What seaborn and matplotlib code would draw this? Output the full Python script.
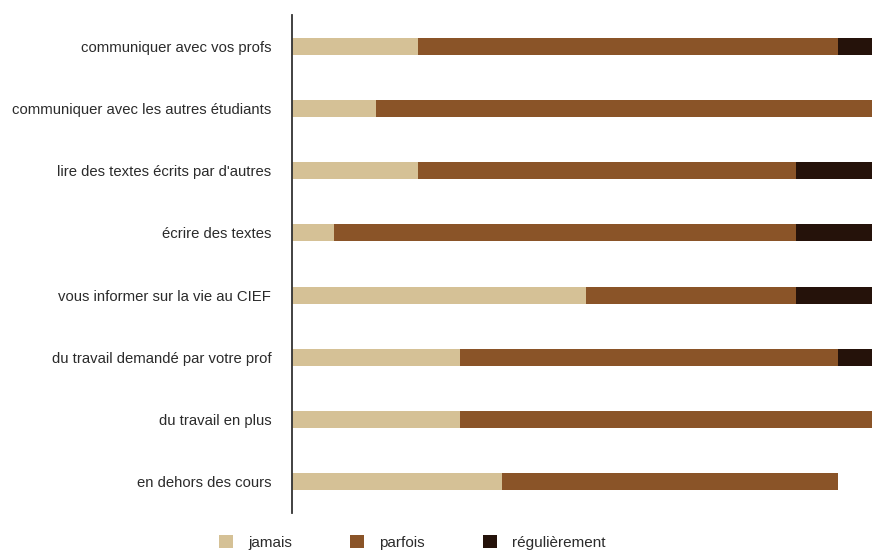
import matplotlib
matplotlib.use('Agg')
import matplotlib.pyplot as plt
from matplotlib.patches import Patch
import numpy as np
import pandas as pd
import seaborn as sns

categories = [
    "communiquer avec vos profs",
    "communiquer avec les autres étudiants",
    "lire des textes écrits par d'autres",
    "écrire des textes",
    "vous informer sur la vie au CIEF",
    "du travail demandé par votre prof",
    "du travail en plus",
    "en dehors des cours",
]
jamais = [3, 2, 3, 1, 7, 4, 4, 5]
parfois = [10, 12, 9, 11, 5, 9, 10, 8]
regulierement = [1, 0, 2, 2, 2, 1, 0, 0]

series = ["jamais", "parfois", "régulièrement"]
colors = ["#d5c196", "#8a5428", "#25120a"]

sns.set_style("white")
plt.rcParams['font.family'] = ['Liberation Sans', 'DejaVu Sans']

df = pd.DataFrame({
    "cat": categories,
    "jamais": jamais,
    "parfois": parfois,
    "régulièrement": regulierement,
})
# cumulative totals, drawn from the longest to the shortest
df["c1"] = df["jamais"]
df["c2"] = df["jamais"] + df["parfois"]
df["c3"] = df["c2"] + df["régulièrement"]

fig = plt.figure(figsize=(8.72, 5.5), dpi=100)
ax = fig.add_axes([292 / 872, 1 - 513 / 550, 1 - 292 / 872, (513 - 15) / 550])

for col, c in zip(["c3", "c2", "c1"], colors[::-1]):
    sns.barplot(data=df, y="cat", x=col, color=c, orient="h", width=0.27,
                saturation=1, linewidth=0, edgecolor="none", ax=ax)

ax.set_xlim(0, 580 / 42)
ax.set_ylim(7.5, -0.5)
ax.set_xlabel("")
ax.set_ylabel("")
ax.set_xticks([])
ax.tick_params(axis='y', length=0, pad=15, labelsize=10.7, labelcolor="#2b2b2b")
for s in ["top", "right", "bottom"]:
    ax.spines[s].set_visible(False)
ax.spines["left"].set_color("#333333")
ax.spines["left"].set_linewidth(1.3)

handles = [Patch(facecolor=c, edgecolor="none", label=s) for s, c in zip(series, colors)]
fig.legend(handles=handles, loc="center", bbox_to_anchor=(0.473, 0.014), ncol=3,
           frameon=False, fontsize=11, handlelength=0.9, handleheight=0.9,
           columnspacing=3.8, handletextpad=1.0, labelcolor="#2b2b2b")

plt.savefig("out.png", dpi=100)
